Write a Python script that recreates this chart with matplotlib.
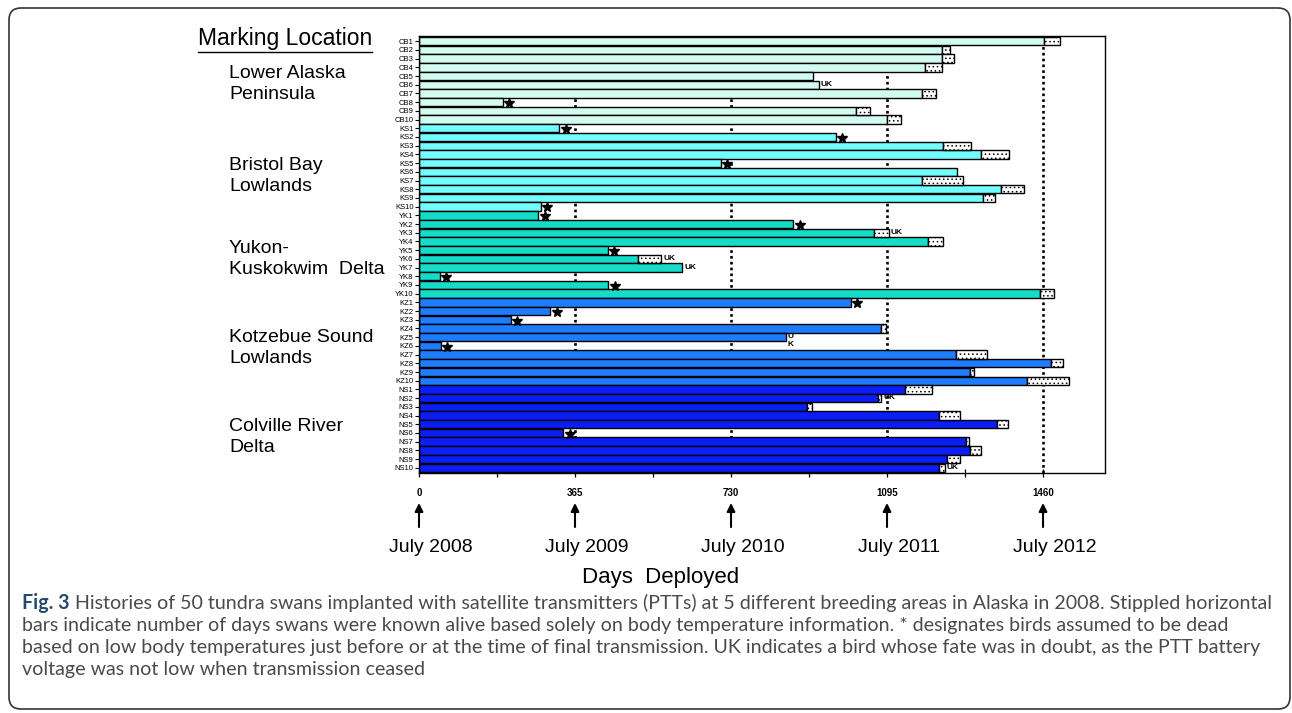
import matplotlib
matplotlib.use('Agg')
import matplotlib.pyplot as plt
import matplotlib.transforms as mtransforms
from matplotlib.patches import FancyBboxPatch

plt.rcParams['font.family'] = ['Liberation Sans', 'DejaVu Sans']
plt.rcParams['hatch.linewidth'] = 0.6

# ---- data: days with location fixes (solid), extra days known alive from
# body temperature only (stippled), and fate marks
groups = ['Lower Alaska\nPeninsula', 'Bristol Bay\nLowlands', 'Yukon-\nKuskokwim  Delta',
          'Kotzebue Sound\nLowlands', 'Colville River\nDelta']
prefixes = ['CB', 'KS', 'YK', 'KZ', 'NS']
group_colors = ['#d2fcf0', '#73fdff', '#14dcc8', '#1e7dff', '#0a1ef5']

cb_days = [1463, 1223, 1223, 1184, 921, 935, 1177, 196, 1023, 1095]
cb_temp = [37, 20, 28, 39, 0, 0, 33, 0, 32, 33]
cb_fate = ['', '', '', '', '', 'UK', '', '*', '', '']

ks_days = [328, 975, 1225, 1316, 706, 1259, 1177, 1362, 1319, 285]
ks_temp = [0, 0, 67, 65, 0, 0, 96, 53, 29, 0]
ks_fate = ['*', '*', '', '', '*', '', '', '', '', '*']

yk_days = [279, 876, 1065, 1190, 442, 513, 616, 48, 443, 1454]
yk_temp = [0, 0, 34, 35, 0, 53, 0, 0, 0, 31]
yk_fate = ['*', '*', 'UK', '', '*', 'UK', 'UK', '*', '*', '']

kz_days = [1010, 307, 215, 1081, 858, 51, 1256, 1479, 1290, 1422]
kz_temp = [0, 0, 0, 11, 0, 0, 73, 28, 8, 99]
kz_fate = ['*', '*', '*', '', 'U\nK', '*', '', '', '', '']

ns_days = [1138, 1074, 907, 1216, 1352, 338, 1280, 1290, 1235, 1217]
ns_temp = [63, 7, 13, 49, 27, 0, 6, 25, 30, 13]
ns_fate = ['', 'UK', '', '', '', '*', '', '', '', 'UK']

year_ticks = [0, 365, 730, 1095, 1460]
year_labels = ['July 2008', 'July 2009', 'July 2010', 'July 2011', 'July 2012']

caption = [
    ' Histories of 50 tundra swans implanted with satellite transmitters (PTTs) at 5 different breeding areas in Alaska in 2008. Stippled horizontal',
    'bars indicate number of days swans were known alive based solely on body temperature information. * designates birds assumed to be dead',
    'based on low body temperatures just before or at the time of final transmission. UK indicates a bird whose fate was in doubt, as the PTT battery',
    'voltage was not low when transmission ceased',
]

all_days = [cb_days, ks_days, yk_days, kz_days, ns_days]
all_temp = [cb_temp, ks_temp, yk_temp, kz_temp, ns_temp]
all_fate = [cb_fate, ks_fate, yk_fate, kz_fate, ns_fate]

names, days, temp, fate, colors = [], [], [], [], []
for g in range(5):
    for i in range(10):
        names.append(prefixes[g] + str(i + 1))
        days.append(all_days[g][i])
        temp.append(all_temp[g][i])
        fate.append(all_fate[g][i])
        colors.append(group_colors[g])
ypos = list(range(len(names)))

W, H = 1292, 713
fig = plt.figure(figsize=(W / 100, H / 100), dpi=100)
ax = fig.add_axes([419 / W, 1 - 473 / H, 686 / W, 437 / H])
ax.set_xlim(0, 1605)
ax.set_ylim(49.6, -0.6)
ax.set_axisbelow(True)

for d in year_ticks[1:]:
    ax.axvline(d, color='black', lw=1.9, ls=(0, (1, 1.2)), zorder=1)

ax.barh(ypos, days, height=0.96, color=colors, edgecolor='black', lw=1.0, zorder=2)
st_y = [y for y, t in zip(ypos, temp) if t > 0]
st_w = [t for t in temp if t > 0]
st_l = [d for d, t in zip(days, temp) if t > 0]
ax.barh(st_y, st_w, left=st_l, height=0.96, color='white', edgecolor='black',
        lw=1.0, hatch='....', zorder=2)

for y, d, t, f in zip(ypos, days, temp, fate):
    if f == '*':
        ax.plot(d + 15, y + 0.1, marker='*', color='black', ms=7.5, zorder=3)
    elif f:
        ax.text(d + t + 5, y - 0.45, f, fontsize=6, fontweight='bold',
                ha='left', va='top', linespacing=1.2, zorder=3)

ax.set_yticks(ypos)
ax.set_yticklabels(names)
ax.set_xticks(year_ticks)
ax.set_xticklabels([str(d) for d in year_ticks], fontweight='bold')
ax.set_xticks([182.5, 547.5, 912.5, 1277.5], minor=True)
ax.tick_params(axis='x', which='both', direction='inout', length=6, width=0.9,
               pad=8, labelsize=7)
ax.tick_params(axis='y', direction='out', length=3, width=0.8, pad=1, labelsize=5.5)
for s in ax.spines.values():
    s.set_linewidth(1.0)

# arrows and calendar labels below the axis
trans = mtransforms.blended_transform_factory(ax.transData, fig.transFigure)
for d, lab in zip(year_ticks, year_labels):
    ax.annotate('', xy=(d, 1 - 503 / H), xytext=(d, 1 - 527 / H),
                xycoords=trans, textcoords=trans, annotation_clip=False,
                arrowprops=dict(arrowstyle='-|>', color='black', lw=1.5,
                                mutation_scale=12, shrinkA=0, shrinkB=0))
    ax.text(d + 28, 1 - 547 / H, lab, transform=trans, fontsize=14,
            ha='center', va='center')
ax.text(565, 1 - 578 / H, 'Days  Deployed', transform=trans, fontsize=16,
        ha='center', va='center')

# marking location labels
ml = fig.text(198 / W, 1 - 39 / H, 'Marking Location', fontsize=16.5, va='center')
group_mid = [84, 176, 259, 348, 437]
for lab, ym in zip(groups, group_mid):
    fig.text(229 / W, 1 - ym / H, lab, fontsize=14, va='center', linespacing=1.3)

# caption
cap_y = [603, 625, 647, 669]
cap_size = 14.1
figlab = fig.text(22 / W, 1 - cap_y[0] / H, 'Fig. 3', fontsize=cap_size, fontweight='bold',
                  color='#27496d', family='Lato', va='center')
fig.canvas.draw()
ax.annotate(caption[0], xy=(1, 0.5), xycoords=figlab, fontsize=cap_size, family='Lato',
            color='#4a4a4a', va='center', annotation_clip=False)
for line, yc in zip(caption[1:], cap_y[1:]):
    fig.text(22 / W, 1 - yc / H, line, fontsize=cap_size, family='Lato', color='#4a4a4a',
             va='center')

# underline under "Marking Location"
bb = ml.get_window_extent().transformed(fig.transFigure.inverted())
fig.add_artist(plt.Line2D([bb.x0, bb.x1], [bb.y0 - 1 / H, bb.y0 - 1 / H],
                          color='black', lw=1.0, transform=fig.transFigure))

frame = FancyBboxPatch((9, 4), 1281, 701, boxstyle='round,pad=0,rounding_size=12',
                       transform=mtransforms.IdentityTransform(), facecolor='none',
                       edgecolor='#333333', lw=1.2)
fig.add_artist(frame)

fig.savefig('out.png', dpi=100)
